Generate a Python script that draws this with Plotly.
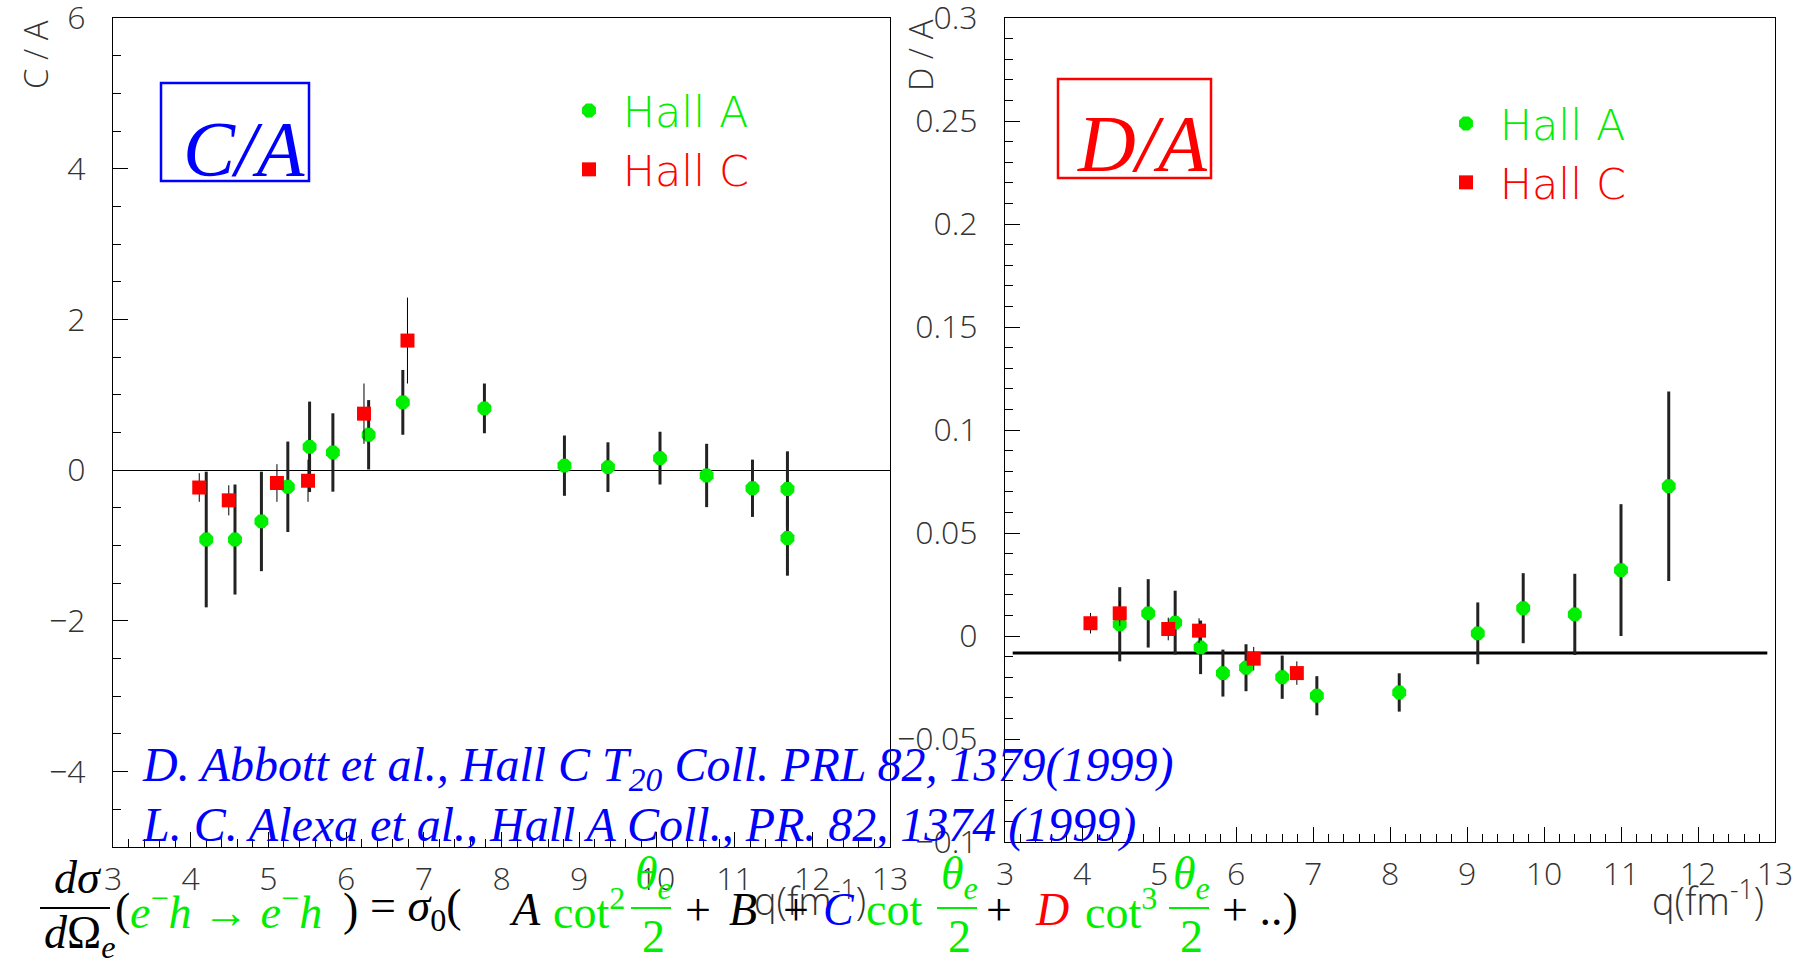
import plotly.graph_objects as go

W, H = 1810, 960

# ---------------- data: C/A ----------------
ca_hallA_q = [4.20, 4.57, 4.91, 5.25, 5.53, 5.83, 6.29, 6.73, 7.78, 8.81, 9.37, 10.04, 10.64, 11.23, 11.68, 11.68]
ca_hallA_val = [-0.92, -0.92, -0.68, -0.22, 0.31, 0.235, 0.47, 0.90, 0.82, 0.06, 0.04, 0.16, -0.07, -0.24, -0.25, -0.90]
ca_hallA_err = [0.90, 0.73, 0.66, 0.60, 0.60, 0.52, 0.46, 0.43, 0.33, 0.40, 0.33, 0.35, 0.42, 0.38, 0.50, 0.50]
ca_hallC_q = [4.11, 4.49, 5.11, 5.51, 6.23, 6.79]
ca_hallC_val = [-0.23, -0.40, -0.17, -0.14, 0.75, 1.72]
ca_hallC_err = [0.19, 0.20, 0.25, 0.28, 0.40, 0.57]

# ---------------- data: D/A ----------------
da_hallA_q = [4.49, 4.86, 5.21, 5.54, 5.83, 6.13, 6.60, 7.05, 8.12, 9.14, 9.73, 10.40, 11.00, 11.62]
da_hallA_val = [0.0057, 0.011, 0.0065, -0.0055, -0.018, -0.0154, -0.020, -0.029, -0.0274, 0.0013, 0.0135, 0.0105, 0.032, 0.0727]
da_hallA_err = [0.018, 0.0166, 0.0155, 0.013, 0.0114, 0.0114, 0.0105, 0.0095, 0.0093, 0.015, 0.017, 0.0197, 0.032, 0.046]
da_hallC_q = [4.11, 4.49, 5.12, 5.52, 6.23, 6.79]
da_hallC_val = [0.0062, 0.011, 0.0034, 0.0026, -0.011, -0.018]
da_hallC_err = [0.005, 0.006, 0.0055, 0.006, 0.0057, 0.0057]
da_fit_level = -0.0083
da_fit_q = [3.1, 12.9]

# ---------------- axes ticks ----------------
x_ticks = list(range(3, 14))
x_ticktext = [str(v) for v in x_ticks]
ca_ticks = [-4, -2, 0, 2, 4, 6]
ca_ticktext = ["\u22124", "\u22122", "0", "2", "4", "6"]
da_ticks = [-0.1, -0.05, 0, 0.05, 0.1, 0.15, 0.2, 0.25, 0.3]
da_ticktext = ["\u22120.1", "\u22120.05", "0", "0.05", "0.1", "0.15", "0.2", "0.25", "0.3"]

GREEN = "#00ee00"
RED = "#ff0000"
BLUE = "#0000ff"
AXFONT = "Open Sans"
LEGFONT = "DejaVu Sans"
SERIF = "Liberation Serif"


def px(x):
    return x / W


def py(y):
    return 1 - y / H


fig = go.Figure()


def add_panel(xa, ya, qa, va, ea, qc, vc, ec, legend):
    fig.add_trace(go.Scatter(
        x=qa, y=va, mode="markers", xaxis=xa, yaxis=ya,
        name="<span style='color:%s'>\u00a0Hall A</span>" % GREEN, legend=legend, legendgroup=legend + "a",
        marker=dict(symbol="octagon", size=15, color=GREEN),
        error_y=dict(type="data", array=ea, color="#222222", thickness=3, width=0),
    ))
    fig.add_trace(go.Scatter(
        x=qc, y=vc, mode="markers", xaxis=xa, yaxis=ya,
        name="<span style='color:%s'>\u00a0Hall C</span>" % RED, legend=legend, legendgroup=legend + "c",
        marker=dict(symbol="square", size=14, color=RED),
        error_y=dict(type="data", array=ec, color="#000000", thickness=1, width=0),
    ))


add_panel("x", "y", ca_hallA_q, ca_hallA_val, ca_hallA_err, ca_hallC_q, ca_hallC_val, ca_hallC_err, "legend")

fig.add_trace(go.Scatter(
    x=da_fit_q, y=[da_fit_level, da_fit_level], mode="lines", xaxis="x2", yaxis="y2",
    line=dict(color="black", width=3), showlegend=False, hoverinfo="skip",
))
add_panel("x2", "y2", da_hallA_q, da_hallA_val, da_hallA_err, da_hallC_q, da_hallC_val, da_hallC_err, "legend2")

tickfont = dict(family=AXFONT, size=32, color="#333333", weight=300)

xcommon = dict(
    range=[3, 13], tickvals=x_ticks, ticktext=x_ticktext, ticks="inside", ticklen=15,
    tickcolor="black", showline=True, linecolor="black", linewidth=1, mirror=True,
    showgrid=False, zeroline=False, tickfont=tickfont, ticklabelstandoff=4, automargin=False,
    ticklabeloverflow="allow",
    minor=dict(dtick=0.2, ticks="inside", ticklen=8, tickcolor="black", showgrid=False),
)
ycommon = dict(
    ticks="inside", ticklen=15, tickcolor="black", showline=True, linecolor="black", linewidth=1,
    mirror=True, showgrid=False, tickfont=tickfont, ticklabelstandoff=20, automargin=False,
    ticklabeloverflow="allow",
)

fig.update_layout(
    width=W, height=H, margin=dict(l=0, r=0, t=0, b=0, autoexpand=False),
    paper_bgcolor="white", plot_bgcolor="white",
    xaxis=dict(domain=[px(113), px(890)], anchor="y", **xcommon),
    yaxis=dict(domain=[py(847), py(18)], anchor="x", range=[-5, 6.0001], tickvals=ca_ticks, ticktext=ca_ticktext,
               zeroline=True, zerolinecolor="black", zerolinewidth=1,
               minor=dict(dtick=0.5, ticks="inside", ticklen=8, tickcolor="black", showgrid=False), **ycommon),
    xaxis2=dict(domain=[px(1005), px(1775)], anchor="y2", **xcommon),
    yaxis2=dict(domain=[py(842), py(18)], anchor="x2", range=[-0.1, 0.30001], tickvals=da_ticks, ticktext=da_ticktext,
                zeroline=False,
                minor=dict(dtick=0.01, ticks="inside", ticklen=8, tickcolor="black", showgrid=False), **ycommon),
    legend=dict(x=px(569), y=py(76), xanchor="left", yanchor="top", bgcolor="rgba(0,0,0,0)",
                font=dict(family=LEGFONT, size=43, weight=200), itemsizing="trace", tracegroupgap=0),
    legend2=dict(x=px(1446), y=py(89), xanchor="left", yanchor="top", bgcolor="rgba(0,0,0,0)",
                 font=dict(family=LEGFONT, size=43, weight=200), itemsizing="trace", tracegroupgap=0),
    showlegend=True,
)

ann = []
shapes = []


def text(t, x, y, color="black", size=46, family=SERIF, xanchor="left", yanchor="middle", angle=0, weight=None):
    f = dict(family=family, size=size, color=color)
    if weight:
        f["weight"] = weight
    ann.append(dict(text=t, x=px(x), y=py(y), xref="paper", yref="paper", xanchor=xanchor, yanchor=yanchor,
                    showarrow=False, font=f, textangle=angle))


def hline(x0, x1, y, color="black", width=2):
    shapes.append(dict(type="line", xref="paper", yref="paper", x0=px(x0), x1=px(x1), y0=py(y), y1=py(y),
                       line=dict(color=color, width=width)))


# axis titles
text("C / A", 36, 55, color="#333333", size=33, family=AXFONT, xanchor="center", angle=-90, weight=300)
text("D / A", 921, 55, color="#333333", size=33, family=AXFONT, xanchor="center", angle=-90, weight=300)
text("q(fm<sup>-1</sup>)", 752, 898, color="#333333", size=38, family=AXFONT, weight=300)
text("q(fm<sup>-1</sup>)", 1650, 898, color="#333333", size=38, family=AXFONT, weight=300)

# panel labels in boxes
shapes.append(dict(type="rect", xref="paper", yref="paper", x0=px(161), x1=px(309), y0=py(181), y1=py(83),
                   line=dict(color=BLUE, width=2.5)))
text("<i>C/A</i>", 244, 148, color=BLUE, size=78, xanchor="center")
shapes.append(dict(type="rect", xref="paper", yref="paper", x0=px(1058), x1=px(1211), y0=py(178), y1=py(79),
                   line=dict(color=RED, width=2.5)))
text("<i>D/A</i>", 1142, 144, color=RED, size=80, xanchor="center")

# references
text("<i>D. Abbott et al., Hall C T<sub>20</sub> Coll. PRL 82, 1379(1999)</i>", 140, 768, color=BLUE, size=48)
text("<i>L. C. Alexa et al., Hall A Coll., PR. 82, 1374 (1999)</i>", 140, 825, color=BLUE, size=48)

# formula
FS = 46
MY, NY, DY, BY = 909, 877, 936, 908
text("<i>d\u03c3</i>", 52, NY, size=FS)
hline(40, 110, BY)
text("<i>d</i>\u03a9<sub><i>e</i></sub>", 42, DY, size=FS)
text("(", 113, MY, size=FS)
text("<i>e</i><sup>\u2212</sup><i>h</i> \u2192 <i>e</i><sup>\u2212</sup><i>h</i>", 128, MY, color=GREEN, size=FS)
text(")", 341, MY, size=FS)
text("= <i>\u03c3</i><sub>0</sub>(", 368, MY, size=FS)
text("<i>A</i>", 507, MY, size=FS)
text("cot<sup>2</sup>", 551, MY, color=GREEN, size=FS)


def theta_frac(x0):
    text("<i>\u03b8<sub>e</sub></i>", x0 + 2, NY, color=GREEN, size=FS)
    hline(x0, x0 + 40, BY, color=GREEN)
    text("2", x0 + 9, DY, color=GREEN, size=FS)


theta_frac(631)
text("+", 683, MY, size=FS)
text("<i>B</i>", 727, MY, size=FS)
text("+", 781, MY, size=FS)
text("<i>C</i>", 821, MY, color=BLUE, size=FS)
text("cot", 864, MY, color=GREEN, size=FS)
theta_frac(937)
text("+", 984, MY, size=FS)
text("<i>D</i>", 1033, MY, color=RED, size=FS)
text("cot<sup>3</sup>", 1083, MY, color=GREEN, size=FS)
theta_frac(1169)
text("+ ..)", 1220, MY, size=FS)

fig.update_layout(annotations=ann, shapes=shapes)
fig.write_html("out.html")
